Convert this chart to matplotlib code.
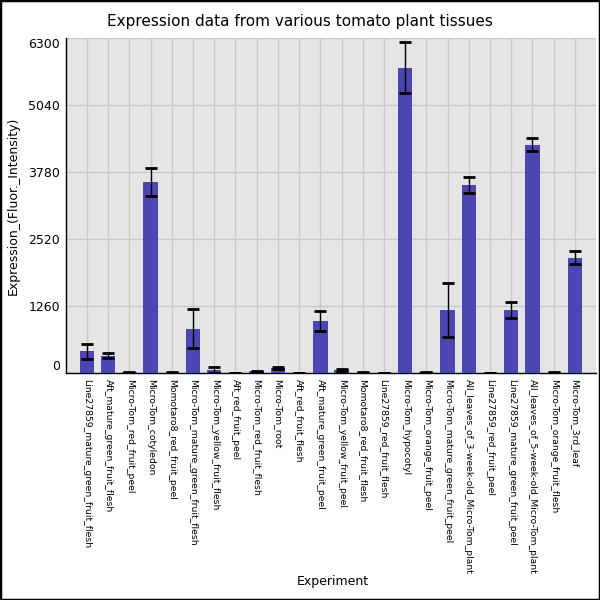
import numpy as np
from matplotlib import pyplot as plt
from matplotlib.patches import Rectangle
from matplotlib.transforms import ScaledTranslation

tissues = ["Line27859_mature_green_fruit_flesh", "Aft_mature_green_fruit_flesh",
           "Micro-Tom_red_fruit_peel", "Micro-Tom_cotyledon", "Momotaro8_red_fruit_peel",
           "Micro-Tom_mature_green_fruit_flesh", "Micro-Tom_yellow_fruit_flesh",
           "Aft_red_fruit_peel", "Micro-Tom_red_fruit_flesh", "Micro-Tom_root",
           "Aft_red_fruit_flesh", "Aft_mature_green_fruit_peel", "Micro-Tom_yellow_fruit_peel",
           "Momotaro8_red_fruit_flesh", "Line27859_red_fruit_flesh", "Micro-Tom_hypocotyl",
           "Micro-Tom_orange_fruit_peel", "Micro-Tom_mature_green_fruit_peel",
           "All_leaves_of_3-week-old_Micro-Tom_plant", "Line27859_red_fruit_peel",
           "Line27859_mature_green_fruit_peel", "All_leaves_of_5-week-old_Micro-Tom_plant",
           "Micro-Tom_orange_fruit_flesh", "Micro-Tom_3rd_leaf"]
expression = [410, 330, 15, 3600, 10, 835, 60, 5, 35, 100, 5, 975,
              55, 10, 5, 5750, 15, 1190, 3540, 5, 1195, 4300, 10, 2175]
std_err = [138, 45, 10, 266, 10, 370, 60, 5, 15, 25, 5, 190,
           20, 10, 5, 477, 15, 508, 155, 5, 150, 125, 10, 128]
y_ticks = [0, 1260, 2520, 3780, 5040, 6300]

fig = plt.figure(figsize=(6, 6), dpi=100)
fig.patches.append(Rectangle((0, 0), 1, 1, transform=fig.transFigure, fill=False,
                             edgecolor="black", linewidth=2.5))
ax = fig.add_axes([0.1095, 0.378, 0.884, 0.558])
ax.set_facecolor("#e5e5e5")

x = np.arange(len(tissues))
ax.bar(x, expression, 0.68, color="#4b46b1", zorder=3)
ax.errorbar(x, expression, yerr=std_err, fmt="none", ecolor="black", elinewidth=1,
            capsize=4.5, capthick=2, zorder=4)

ax.set_xlim(-1, 24)
ax.set_ylim(0, 6300)
ax.set_yticks(y_ticks)
ax.set_yticklabels([str(t) for t in y_ticks], fontsize=9)
ylabels = ax.get_yticklabels()
ylabels[0].set_va("bottom")
ylabels[-1].set_va("top")
# push the top label a little further down, like the reference
ylabels[-1].set_transform(ylabels[-1].get_transform() + ScaledTranslation(0, -3 / 72, fig.dpi_scale_trans))
ax.set_xticks(x)
ax.set_xticklabels(tissues, rotation=-90, fontsize=6.7, va="top", ha="center")
ax.tick_params(axis="both", length=0, pad=4)
ax.grid(True, color="#c8c8c8", linewidth=1, zorder=0)
ax.set_axisbelow(True)

for side in ["top", "right"]:
    ax.spines[side].set_visible(False)
ax.spines["left"].set_linewidth(1)
ax.spines["bottom"].set_linewidth(1)

ax.set_ylabel("Expression_(Fluor._Intensity)", fontsize=9, labelpad=6)
fig.text(0.555, 0.025, "Experiment", fontsize=9, ha="center")
fig.text(0.5, 0.957, "Expression data from various tomato plant tissues", fontsize=11, ha="center")

plt.savefig("out.png")
plt.close()
